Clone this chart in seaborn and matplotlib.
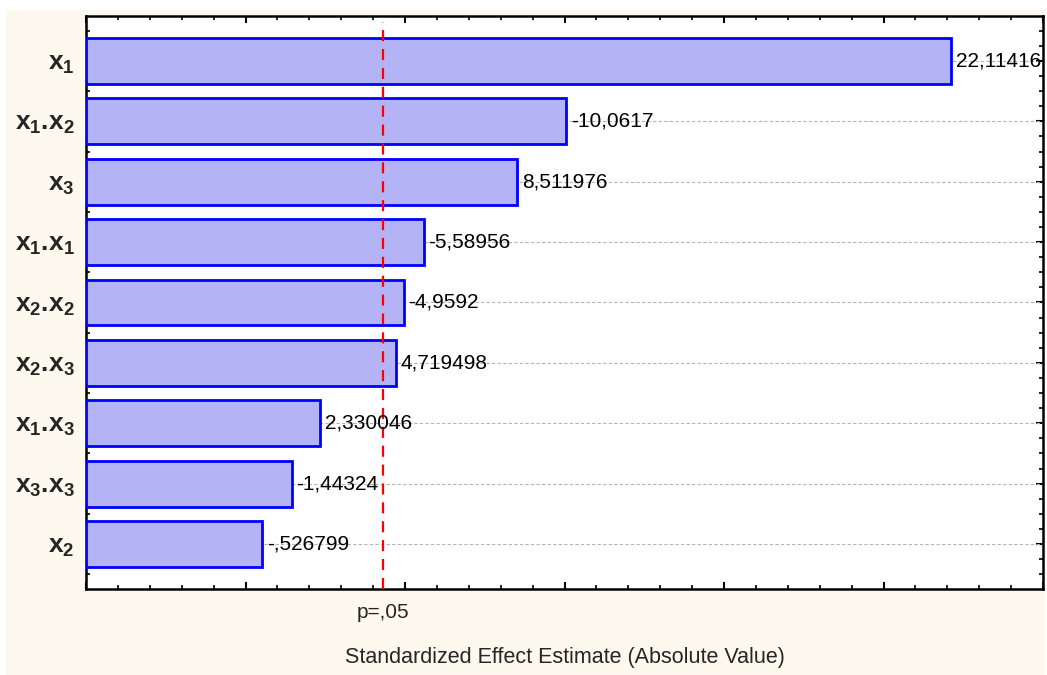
import matplotlib
matplotlib.use("Agg")
import matplotlib.pyplot as plt
from matplotlib.patches import Rectangle
from matplotlib.ticker import MultipleLocator, NullFormatter
import seaborn as sns
import pandas as pd

# Pareto chart of standardized effects
terms = [r"$\mathbf{x_1}$", r"$\mathbf{x_1}$.$\mathbf{x_2}$", r"$\mathbf{x_3}$",
         r"$\mathbf{x_1}$.$\mathbf{x_1}$", r"$\mathbf{x_2}$.$\mathbf{x_2}$",
         r"$\mathbf{x_2}$.$\mathbf{x_3}$", r"$\mathbf{x_1}$.$\mathbf{x_3}$",
         r"$\mathbf{x_3}$.$\mathbf{x_3}$", r"$\mathbf{x_2}$"]
effects = [22.11416, -10.0617, 8.511976, -5.58956, -4.9592, 4.719498,
           2.330046, -1.44324, -0.526799]
p_crit = 4.302653          # t(0.975; df=2)
x_range = (-5, 25)

sns.set_theme(style="white")
plt.rcParams["font.family"] = ["Liberation Sans", "DejaVu Sans"]
plt.rcParams["mathtext.fontset"] = "custom"
plt.rcParams["mathtext.rm"] = "Liberation Sans"
plt.rcParams["mathtext.bf"] = "Liberation Sans:bold"
plt.rcParams["mathtext.it"] = "Liberation Sans:italic"

df = pd.DataFrame({"term": terms, "effect": effects})
df["abs_effect"] = df["effect"].abs()

fig = plt.figure(figsize=(10.47, 6.75), dpi=100, facecolor="white")
fig.patches.append(Rectangle((6 / 1047, 0), 1039 / 1047, 665 / 675,
                             transform=fig.transFigure, facecolor="#FEF9EE",
                             edgecolor="none", zorder=-10))
ax = fig.add_axes([86 / 1047, 1 - 589 / 675, (1043 - 86) / 1047, (589 - 16) / 675])
ax.set_facecolor("white")

sns.barplot(data=df, x="abs_effect", y="term", orient="h", ax=ax,
            color="#B3B3F5", saturation=1, width=0.76,
            edgecolor="#0000FF", linewidth=2.0, zorder=3)

# bars grow from the left edge of the axis
for patch in ax.patches:
    right = patch.get_x() + patch.get_width()
    patch.set_x(x_range[0])
    patch.set_width(right - x_range[0])

ax.set_xlim(*x_range)
ax.set_ylim(len(terms) - 1 + 0.745, -0.745)

# dotted reference lines per term
for i in range(len(terms)):
    ax.axhline(i, color="#B4B4B4", lw=0.8, ls=(0, (3, 2)), zorder=1)

# value labels
def fmt(v):
    s = f"{v:.7g}"
    if s.startswith("-0."):
        s = "-" + s[2:]
    elif s.startswith("0."):
        s = s[1:]
    return s.replace(".", ",")

for i, v in enumerate(effects):
    ax.text(abs(v) + 0.15, i, fmt(v), va="center", ha="left",
            fontsize=15, color="black", zorder=5)

# significance threshold
ax.axvline(p_crit, color="#FF0000", lw=1.6, ls=(0, (5, 3.5)), zorder=4,
           ymin=0, ymax=0.99)
ax.text(p_crit, -0.025, "p=,05", transform=ax.get_xaxis_transform(),
        ha="center", va="top", fontsize=15)

ax.set_xlabel("Standardized Effect Estimate (Absolute Value)", fontsize=15.5,
              labelpad=38)
ax.set_ylabel("")

# ticks and frame
ax.xaxis.set_major_locator(MultipleLocator(5))
ax.xaxis.set_minor_locator(MultipleLocator(1))
ax.xaxis.set_major_formatter(NullFormatter())
ax.yaxis.set_minor_locator(MultipleLocator(0.25))
ax.tick_params(axis="x", which="major", direction="in", length=5, width=1.5,
               top=True, bottom=True, color="black")
ax.tick_params(axis="x", which="minor", direction="in", length=3, width=1.2,
               top=True, bottom=True, color="black")
ax.tick_params(axis="y", which="major", direction="in", length=5, width=1.5,
               left=True, right=True, color="black", labelsize=19, pad=8)
ax.tick_params(axis="y", which="minor", direction="in", length=3, width=1.2,
               left=True, right=True, color="black")
for lbl in ax.get_yticklabels():
    lbl.set_fontweight("bold")
for s in ax.spines.values():
    s.set_visible(True)
    s.set_color("black")
    s.set_linewidth(1.8)

fig.savefig("out.png", dpi=100, facecolor=fig.get_facecolor())
